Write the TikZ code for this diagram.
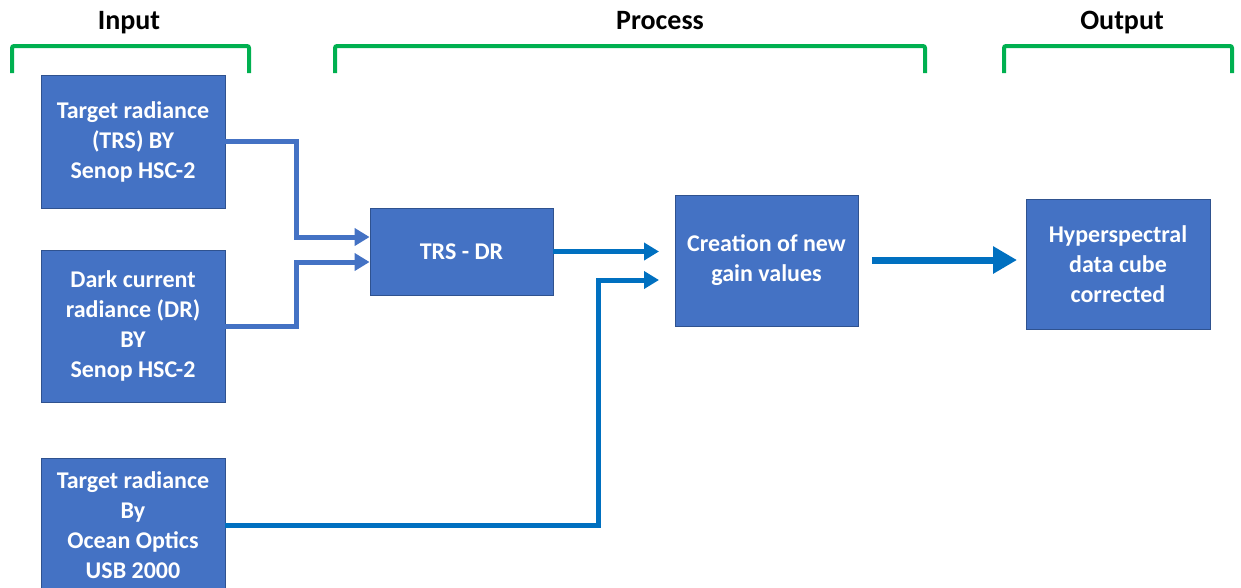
\documentclass[tikz,border=0pt]{standalone}
\usepackage{fontspec}
\setmainfont{Carlito}
\usetikzlibrary{arrows.meta,calc}
\definecolor{boxblue}{HTML}{4472C4}
\definecolor{boxedge}{HTML}{2F528F}
\definecolor{arrblue}{HTML}{0070C0}
\definecolor{brgreen}{HTML}{00B050}
\begin{document}
\begin{tikzpicture}[x=0.75pt,y=-0.75pt,
  blk/.style={rectangle,fill=boxblue,draw=boxedge,line width=0.6pt,text=white,
    font=\fontsize{18}{22.5}\selectfont\bfseries,align=center,inner sep=0pt},
  head/.style={font=\fontsize{21}{25}\selectfont\bfseries,text=black,anchor=base},
  brk/.style={draw=brgreen,line width=3pt,rounded corners=1.5pt},
  thinarr/.style={draw=boxblue,line width=3.75pt,-{Triangle[length=11.25pt,width=12.75pt]}},
  darkarr/.style={draw=arrblue,line width=3.75pt,-{Triangle[length=11.25pt,width=12.75pt]}},
  bigarr/.style={draw=arrblue,line width=5.25pt,-{Triangle[length=18pt,width=19.5pt]}}]
\useasboundingbox (0,0) rectangle (1241,587);
\clip (0,0) rectangle (1241,587);

% headers
\node[head] (hin) at (129,29) {Input};
\node[head] (hpr) at (660,29) {Process};
\node[head] (hout) at (1122,29) {Output};

% brackets
\draw[brk] (12,73) -- (12,46) -- (249,46) -- (249,73);
\draw[brk] (335,73) -- (335,46) -- (925,46) -- (925,73);
\draw[brk] (1004,73) -- (1004,46) -- (1232,46) -- (1232,73);

% boxes
\node[blk,minimum width=138pt,minimum height=99.75pt] (A) at (133,141.5)
  {Target radiance\\(TRS) BY\\Senop HSC-2};
\node[blk,minimum width=138pt,minimum height=114pt] (B) at (133,326)
  {Dark current\\radiance (DR)\\BY\\Senop HSC-2};
\node[blk,minimum width=138pt,minimum height=100.5pt] (C) at (133,525)
  {Target radiance\\By\\Ocean Optics\\USB 2000};
\node[blk,minimum width=137.25pt,minimum height=65.25pt] (T) at (461.5,251.5)
  {TRS - DR};
\node[blk,minimum width=137.25pt,minimum height=98.25pt] (G) at (766.5,260.5)
  {Creation of new\\gain values};
\node[blk,minimum width=138pt,minimum height=97.5pt] (H) at (1118,264)
  {Hyperspectral\\data cube\\corrected};

% connectors
\coordinate (a1) at (296,237);
\coordinate (b1) at (296,262);
\draw[thinarr] (A.east) -| (a1) -- (a1 -| T.west);
\draw[thinarr] (B.east) -| (b1) -- (b1 -| T.west);
\coordinate (t3) at (659,251.5);
\draw[darkarr] (T.east) -- (t3);
\coordinate (c1) at (598,280);
\coordinate (c2) at (659,280);
\draw[darkarr] (C.east) -| (c1) -- (c2);
\coordinate (g1) at (872,260);
\coordinate (g2) at (1017,260);
\draw[bigarr] (g1) -- (g2);
\end{tikzpicture}
\end{document}
